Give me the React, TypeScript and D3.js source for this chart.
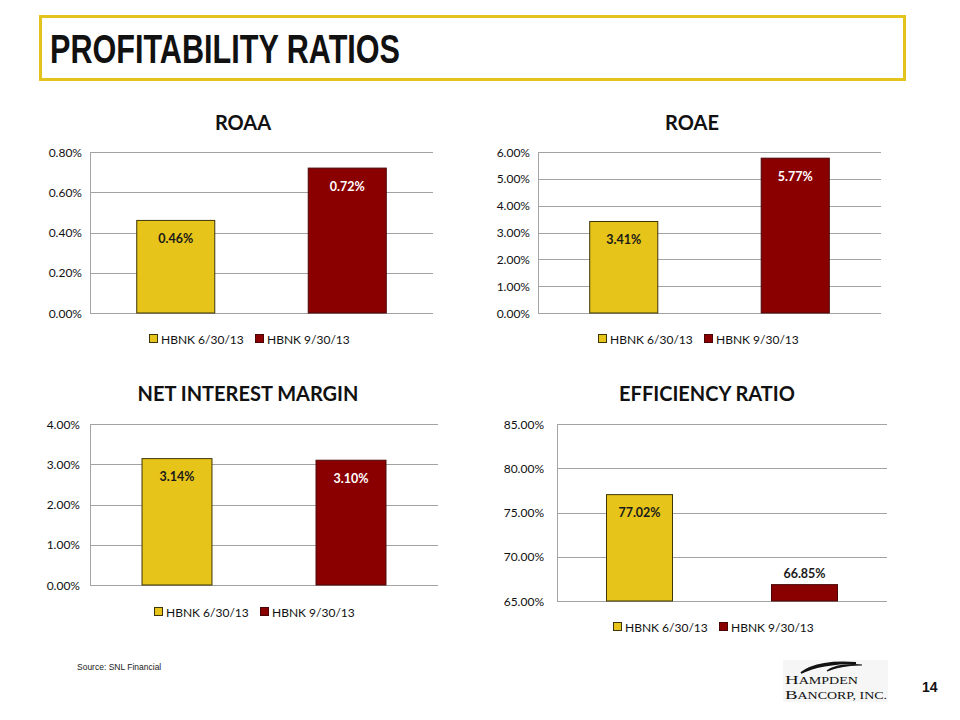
import React from "react";
import * as d3 from "d3";

// ---------- data ----------
const pageTitle = "PROFITABILITY RATIOS";
const seriesLabels = ["HBNK 6/30/13", "HBNK 9/30/13"];
const panelTitles = ["ROAA", "ROAE", "NET INTEREST MARGIN", "EFFICIENCY RATIO"];
const roaaValues = [0.46, 0.72];
const roaeValues = [3.41, 5.77];
const nimValues = [3.14, 3.1];
const efficiencyValues = [77.02, 66.85];
const roaaTicks = [0, 0.2, 0.4, 0.6, 0.8];
const roaeTicks = [0, 1, 2, 3, 4, 5, 6];
const nimTicks = [0, 1, 2, 3, 4];
const efficiencyTicks = [65, 70, 75, 80, 85];
const sourceText = "Source:  SNL Financial";
const pageNumber = "14";

// ---------- styles / layout ----------
const FILL = ["#E6C41A", "#8A0000"];
const STROKE = ["#3d3508", "#4a0606"];
const LABEL_FILL = ["#1a1a1a", "#ffffff"];
const GRID = "#A3A3A3";
const FONT = "Lato, 'Open Sans', 'Noto Sans', sans-serif";

type Panel = {
  title: string;
  values: number[];
  ticks: number[];
  plot: { l: number; r: number; t: number; b: number };
  padInner: number;
  titleX: number;
  titleY: number;
  legendX: number;
  legendY: number;
  labelGap: number;
};

const panels: Panel[] = [
  { title: panelTitles[0], values: roaaValues, ticks: roaaTicks, plot: { l: 90, r: 433, t: 152, b: 313 }, padInner: 0.545, titleX: 243, titleY: 122, legendX: 149, legendY: 339, labelGap: 8 },
  { title: panelTitles[1], values: roaeValues, ticks: roaeTicks, plot: { l: 538, r: 881, t: 152, b: 313 }, padInner: 0.603, titleX: 692, titleY: 122, legendX: 598, legendY: 339, labelGap: 8 },
  { title: panelTitles[2], values: nimValues, ticks: nimTicks, plot: { l: 90, r: 438, t: 424, b: 585 }, padInner: 0.598, titleX: 248, titleY: 393, legendX: 154, legendY: 612, labelGap: 10 },
  { title: panelTitles[3], values: efficiencyValues, ticks: efficiencyTicks, plot: { l: 557, r: 887, t: 424, b: 601 }, padInner: 0.6, titleX: 707, titleY: 393, legendX: 613, legendY: 627, labelGap: 13 },
];

const fmt = d3.format(".2f");

function ChartPanel({ p }: { p: Panel }) {
  const y = d3
    .scaleLinear()
    .domain([p.ticks[0], p.ticks[p.ticks.length - 1]])
    .range([p.plot.b, p.plot.t]);
  const x = d3
    .scaleBand<string>()
    .domain(seriesLabels)
    .range([p.plot.l, p.plot.r])
    .paddingInner(p.padInner)
    .paddingOuter(p.padInner / 2);
  const base = p.ticks[0];
  return (
    <g>
      <text x={p.titleX} y={p.titleY} textAnchor="middle" dominantBaseline="central" fontFamily={FONT} fontWeight={700} fontSize={20} fill="#111">
        {p.title}
      </text>
      {p.ticks.map((t) => (
        <g key={t}>
          <line x1={p.plot.l} x2={p.plot.r} y1={Math.round(y(t)) + 0.5} y2={Math.round(y(t)) + 0.5} stroke={GRID} strokeWidth={1} />
          <text x={p.plot.l - p.labelGap} y={y(t)} textAnchor="end" dominantBaseline="central" fontFamily={FONT} fontSize={12} fill="#111">
            {fmt(t) + "%"}
          </text>
        </g>
      ))}
      <line x1={p.plot.l + 0.5} x2={p.plot.l + 0.5} y1={p.plot.t} y2={p.plot.b} stroke={GRID} strokeWidth={1} />
      {p.values.map((v, i) => {
        const bx = x(seriesLabels[i])!;
        const bw = x.bandwidth();
        const top = y(v);
        const h = y(base) - top;
        const inside = h > 30;
        return (
          <g key={i}>
            <rect x={bx} y={top} width={bw} height={h} fill={FILL[i]} stroke={STROKE[i]} strokeWidth={1} />
            <text
              x={bx + bw / 2}
              y={inside ? top + 18 : top - 11}
              textAnchor="middle"
              dominantBaseline="central"
              fontFamily={FONT}
              fontWeight={700}
              fontSize={12.5}
              fill={inside ? LABEL_FILL[i] : "#1a1a1a"}
            >
              {fmt(v) + "%"}
            </text>
          </g>
        );
      })}
      {seriesLabels.map((s, i) => {
        const lx = p.legendX + i * 106;
        return (
          <g key={s}>
            <rect x={lx + 0.5} y={p.legendY - 4.5} width={8} height={8} fill={FILL[i]} stroke={STROKE[i]} strokeWidth={1} />
            <text x={lx + 12} y={p.legendY} dominantBaseline="central" fontFamily={FONT} fontSize={12} fill="#111">
              {s}
            </text>
          </g>
        );
      })}
    </g>
  );
}

function Logo() {
  const serif = "'Liberation Serif', 'DejaVu Serif', serif";
  return (
    <g>
      <rect x={783} y={660} width={105} height={42} fill="#f6f6f6" />
      <path d="M801,673 C812,664 834,661 856,663 C834,663 815,666 801,673 Z" fill="#111" stroke="#111" strokeWidth={1.8} />
      <path d="M827,671 C835,665 848,664 862,665 C849,665 837,667 827,671 Z" fill="#111" stroke="#111" strokeWidth={1.2} />
      <text x={785} y={684} fontFamily={serif} fill="#111" textLength={73} lengthAdjust="spacingAndGlyphs">
        <tspan fontSize={13.5}>H</tspan>
        <tspan fontSize={10}>AMPDEN</tspan>
      </text>
      <text x={785} y={699} fontFamily={serif} fill="#111" textLength={102} lengthAdjust="spacingAndGlyphs">
        <tspan fontSize={13.5}>B</tspan>
        <tspan fontSize={10}>ANCORP, INC.</tspan>
      </text>
    </g>
  );
}

export default function App() {
  return (
    <svg width={960} height={720} style={{ position: "absolute", left: 0, top: 0, background: "#fff" }}>
      <rect x={0} y={0} width={960} height={720} fill="#fff" />
      <rect x={40.5} y={16.5} width={864} height={63} fill="none" stroke="#E3C41D" strokeWidth={3} />
      <text
        x={50}
        y={63}
        fontFamily="'Liberation Sans Narrow', 'Liberation Sans', Arial, sans-serif"
        fontWeight={700}
        fontSize={41}
        textLength={350}
        lengthAdjust="spacingAndGlyphs"
        fill="#111"
      >
        {pageTitle}
      </text>
      {panels.map((p, i) => (
        <ChartPanel key={i} p={p} />
      ))}
      <text x={77} y={670} fontFamily="'Liberation Sans', Arial, sans-serif" fontSize={8.5} fill="#222">
        {sourceText}
      </text>
      <Logo />
      <text x={922} y={692} fontFamily="'Liberation Sans', Arial, sans-serif" fontWeight={700} fontSize={14} fill="#111">
        {pageNumber}
      </text>
    </svg>
  );
}
